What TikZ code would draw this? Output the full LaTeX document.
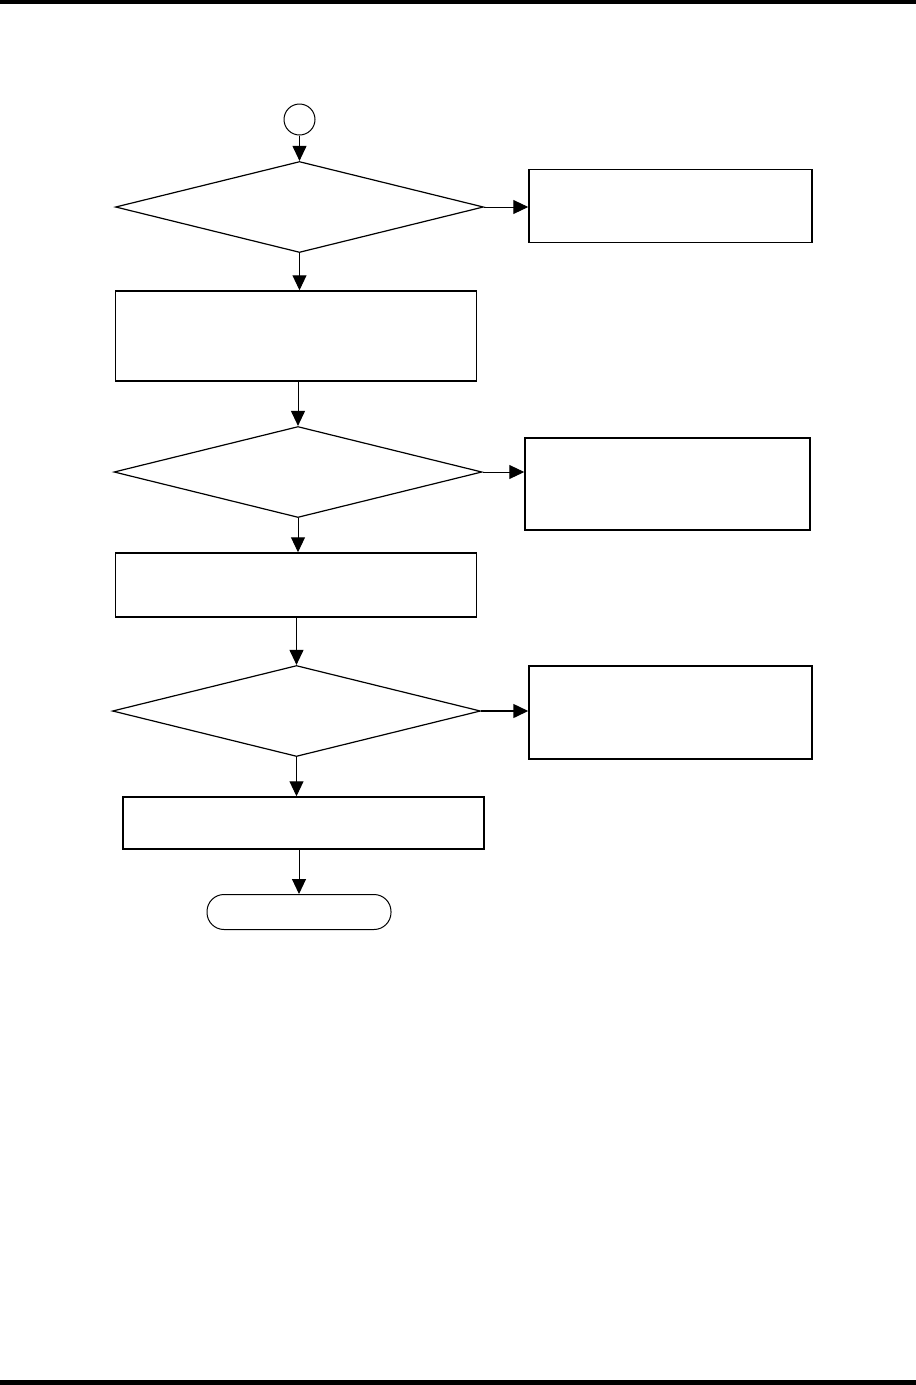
\documentclass[tikz,border=0pt]{standalone}
\usetikzlibrary{shapes.geometric,arrows.meta}
\tikzset{
  decision/.style={draw,diamond,line width=1.2pt,inner sep=0pt,minimum width=368pt,minimum height=91pt},
  block/.style={draw,rectangle,line width=1.5pt,inner sep=0pt,minimum width=361pt},
  sidebox/.style={draw,rectangle,line width=1.5pt,inner sep=0pt,minimum width=283pt},
  flow/.style={line width=1pt,-{Triangle[length=15pt,width=14pt]}}
}
\begin{document}
\begin{tikzpicture}[x=1pt,y=-1pt]
\useasboundingbox (0,0) rectangle (916,1385);
\fill (0,0) rectangle (916,4);
\fill (0,1380) rectangle (916,1385);
\node[draw,circle,line width=1pt,minimum size=31pt,inner sep=0pt] (start) at (299.5,119.5) {};
\node[decision] (d1) at (299.5,207) {};
\node[sidebox,minimum height=73pt] (r1) at (670.5,206) {};
\node[block,minimum height=90pt] (b1) at (296,336) {};
\node[decision] (d2) at (298,472) {};
\node[sidebox,minimum width=285pt,minimum height=92pt] (r2) at (667.5,484) {};
\node[block,minimum height=64pt] (b2) at (296,585) {};
\node[decision] (d3) at (296.5,711) {};
\node[sidebox,minimum height=93pt] (r3) at (670.5,712.5) {};
\node[block,minimum height=52pt] (b3) at (303.5,823) {};
\node[draw,rounded corners=17pt,line width=1pt,minimum width=184pt,minimum height=35pt] (stop) at (299,912) {};
\draw[flow] (start) -- (d1.north);
\draw[flow] (d1.east) -- (r1.west |- d1.east);
\draw[flow] (d1.south) -- (d1.south |- b1.north);
\draw[flow] (d2.north |- b1.south) -- (d2.north);
\draw[flow] (d2.east) -- (r2.west |- d2.east);
\draw[flow] (d2.south) -- (d2.south |- b2.north);
\draw[flow] (d3.north |- b2.south) -- (d3.north);
\draw[flow,line width=1.5pt] (d3.east) -- (r3.west |- d3.east);
\draw[flow] (d3.south) -- (d3.south |- b3.north);
\draw[flow] (stop.north |- b3.south) -- (stop.north);
\end{tikzpicture}
\end{document}
